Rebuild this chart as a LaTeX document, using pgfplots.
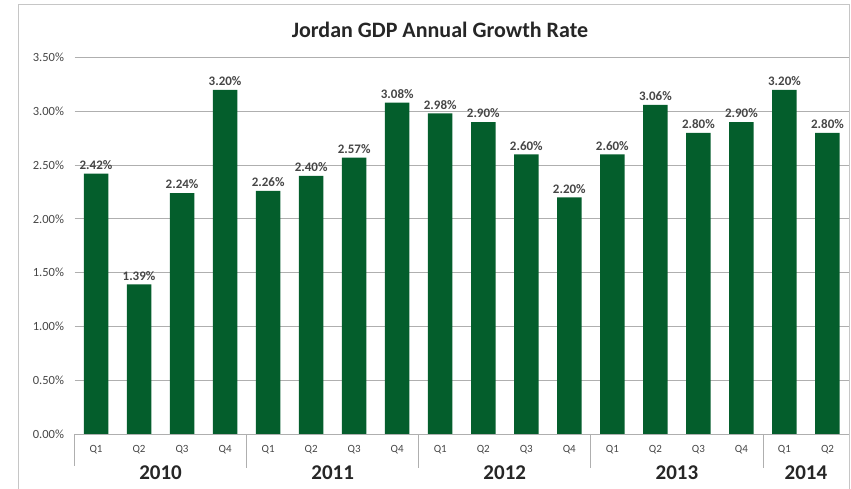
\documentclass[border=0pt]{standalone}
\usepackage{pgfplots}
\pgfplotsset{compat=1.18}
\usepackage{fontspec}
\setmainfont{Carlito}
\definecolor{bargreen}{RGB}{4,94,44}
\definecolor{gridgray}{RGB}{175,175,175}
\definecolor{txtgray}{RGB}{70,70,70}
\begin{document}
\begin{tikzpicture}
\useasboundingbox (0,0) rectangle (851pt,489pt);
\draw[gray!45, line width=1pt] (18pt,-10pt) rectangle (849pt,484pt);
\node[font=\fontsize{22}{24}\selectfont\bfseries, text=black!85] at (440pt,459pt) {Jordan GDP Annual Growth Rate};
\begin{axis}[
  at={(74.5pt,55pt)}, anchor=south west,
  scale only axis, width=774.5pt, height=376.5pt,
  xmin=-0.5, xmax=17.5, ymin=0, ymax=3.5,
  ytick={0,0.5,...,3.5},
  yticklabel={\pgfmathprintnumber[fixed,fixed zerofill,precision=2]{\tick}\%},
  /pgf/number format/assume math mode=true,
  yticklabel style={font=\fontsize{12.5}{14}\selectfont, text=txtgray, xshift=-7pt},
  xtick={0,...,17},
  xticklabels={Q1,Q2,Q3,Q4,Q1,Q2,Q3,Q4,Q1,Q2,Q3,Q4,Q1,Q2,Q3,Q4,Q1,Q2},
  xticklabel style={font=\fontsize{11}{13}\selectfont, text=txtgray, yshift=-8pt},
  major tick length=0pt,
  ymajorgrids, grid style={gridgray, line width=0.8pt},
  axis line style={draw=none},
  axis x line*=bottom,
  clip=false,
  ybar, bar width=24.5pt,
  nodes near coords={\pgfmathprintnumber[fixed,fixed zerofill,precision=2]{\pgfplotspointmeta}\%},
  nodes near coords style={font=\fontsize{13}{15}\selectfont\bfseries, text=txtgray, inner sep=4pt},
]
\addplot[fill=bargreen, draw=none] coordinates {
(0,2.42) (1,1.39) (2,2.24) (3,3.20)
(4,2.26) (5,2.40) (6,2.57) (7,3.08)
(8,2.98) (9,2.90) (10,2.60) (11,2.20)
(12,2.60) (13,3.06) (14,2.80) (15,2.90)
(16,3.20) (17,2.80)};
\draw[gridgray, line width=0.8pt] (axis cs:-0.5,0) -- (axis cs:17.5,0);
\draw[gridgray, line width=0.8pt] (axis cs:-0.5,0) -- ([yshift=-32pt]axis cs:-0.5,0);
\draw[gridgray, line width=0.8pt] (axis cs:3.5,0) -- ([yshift=-34pt]axis cs:3.5,0);
\draw[gridgray, line width=0.8pt] (axis cs:7.5,0) -- ([yshift=-34pt]axis cs:7.5,0);
\draw[gridgray, line width=0.8pt] (axis cs:11.5,0) -- ([yshift=-34pt]axis cs:11.5,0);
\draw[gridgray, line width=0.8pt] (axis cs:15.5,0) -- ([yshift=-34pt]axis cs:15.5,0);
\node[font=\fontsize{21}{23}\selectfont\bfseries, text=black!85] at ([yshift=-39pt]axis cs:1.5,0) {2010};
\node[font=\fontsize{21}{23}\selectfont\bfseries, text=black!85] at ([yshift=-39pt]axis cs:5.5,0) {2011};
\node[font=\fontsize{21}{23}\selectfont\bfseries, text=black!85] at ([yshift=-39pt]axis cs:9.5,0) {2012};
\node[font=\fontsize{21}{23}\selectfont\bfseries, text=black!85] at ([yshift=-39pt]axis cs:13.5,0) {2013};
\node[font=\fontsize{21}{23}\selectfont\bfseries, text=black!85] at ([yshift=-39pt]axis cs:16.5,0) {2014};
\end{axis}
\end{tikzpicture}
\end{document}
